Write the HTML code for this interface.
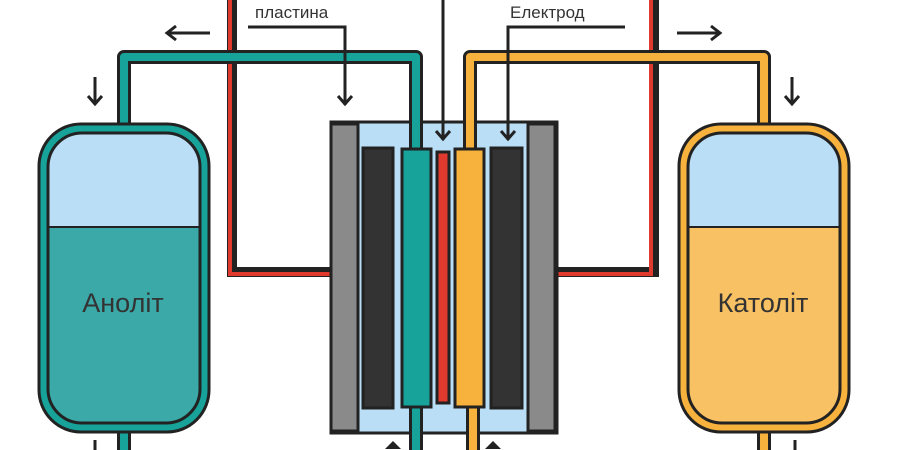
<!DOCTYPE html>
<html><head><meta charset="utf-8"><style>
html,body{margin:0;padding:0;background:#fff;width:900px;height:450px;overflow:hidden}
svg{display:block}
text{font-family:"Liberation Sans",sans-serif}
</style></head><body>
<svg width="900" height="450" viewBox="0 0 900 450" xmlns="http://www.w3.org/2000/svg">
<defs>
<clipPath id="cl"><rect x="48" y="133" width="152" height="290" rx="34"/></clipPath>
<clipPath id="cr"><rect x="688" y="133" width="152" height="290" rx="34"/></clipPath>
</defs>
<!-- red wires -->
<path d="M232,0 V272 H332" fill="none" stroke="#222" stroke-width="10"/>
<path d="M230,0 V274 H332" fill="none" stroke="#e0392d" stroke-width="4"/>
<path d="M654,0 V272 H555" fill="none" stroke="#222" stroke-width="10"/>
<path d="M651,0 V274 H555" fill="none" stroke="#e0392d" stroke-width="4"/>
<!-- pipes -->
<g fill="none" stroke-linejoin="round">
<path d="M124,130 V57 H416 V152" stroke="#222" stroke-width="14"/>
<path d="M124,130 V57 H416 V152" stroke="#17a39a" stroke-width="8"/>
<path d="M124,425 V450" stroke="#222" stroke-width="14"/>
<path d="M124,425 V450" stroke="#17a39a" stroke-width="8"/>
<path d="M764,130 V57 H470 V152" stroke="#222" stroke-width="14"/>
<path d="M764,130 V57 H470 V152" stroke="#f6b23c" stroke-width="8"/>
<path d="M764,425 V450" stroke="#222" stroke-width="14"/>
<path d="M764,425 V450" stroke="#f6b23c" stroke-width="8"/>
</g>
<!-- tanks -->
<rect x="39" y="124" width="170" height="308" rx="42" fill="#17a39a" stroke="#222" stroke-width="3"/>
<rect x="48" y="133" width="152" height="290" rx="34" fill="#3aa9a8"/>
<rect x="48" y="133" width="152" height="94" fill="#b9def5" clip-path="url(#cl)"/>
<line x1="48" y1="227" x2="200" y2="227" stroke="#222" stroke-width="2"/>
<rect x="48" y="133" width="152" height="290" rx="34" fill="none" stroke="#222" stroke-width="3"/>
<text x="123" y="312" font-size="27" text-anchor="middle" fill="#333">Аноліт</text>
<rect x="679" y="124" width="170" height="308" rx="42" fill="#f6b23c" stroke="#222" stroke-width="3"/>
<rect x="688" y="133" width="152" height="290" rx="34" fill="#f8c163"/>
<rect x="688" y="133" width="152" height="94" fill="#b9def5" clip-path="url(#cr)"/>
<line x1="688" y1="227" x2="840" y2="227" stroke="#222" stroke-width="2"/>
<rect x="688" y="133" width="152" height="290" rx="34" fill="none" stroke="#222" stroke-width="3"/>
<text x="763" y="312" font-size="27" text-anchor="middle" fill="#333">Католіт</text>
<!-- cell -->
<rect x="331" y="122" width="226" height="311" fill="#b9def5" stroke="#222" stroke-width="3"/>
<rect x="331" y="124" width="27" height="307" fill="#8a8a8a" stroke="#222" stroke-width="3"/>
<rect x="528" y="124" width="27" height="307" fill="#8a8a8a" stroke="#222" stroke-width="3"/>
<rect x="363" y="148" width="30" height="260" fill="#333" stroke="#222" stroke-width="3"/>
<rect x="491" y="148" width="31" height="260" fill="#333" stroke="#222" stroke-width="3"/>
<!-- pipe segments in cell -->
<g fill="none">
<path d="M416,110 V152" stroke="#222" stroke-width="14"/>
<path d="M416,110 V152" stroke="#17a39a" stroke-width="8"/>
<path d="M416,400 V450" stroke="#222" stroke-width="14"/>
<path d="M416,400 V450" stroke="#17a39a" stroke-width="8"/>
<path d="M470,110 V152" stroke="#222" stroke-width="14"/>
<path d="M470,110 V152" stroke="#f6b23c" stroke-width="8"/>
<path d="M473,400 V450" stroke="#222" stroke-width="14"/>
<path d="M473,400 V450" stroke="#f6b23c" stroke-width="8"/>
</g>
<rect x="402" y="149" width="29" height="258" fill="#17a39a" stroke="#222" stroke-width="3"/>
<rect x="437" y="152" width="12" height="251" fill="#e0392d" stroke="#222" stroke-width="3"/>
<rect x="455" y="149" width="29" height="258" fill="#f6b23c" stroke="#222" stroke-width="3"/>
<!-- leaders & arrows -->
<g fill="none" stroke="#222" stroke-width="3">
<path d="M443,0 V140"/><path d="M436,131 L443,139 L450,131"/>
<path d="M248,27 H345 V105"/><path d="M338,96 L345,104 L352,96"/>
<path d="M625,27 H508 V140"/><path d="M501,131 L508,139 L515,131"/>
<path d="M210,33 H167"/><path d="M176,26 L167,33 L176,40"/>
<path d="M677,33 H720"/><path d="M711,26 L720,33 L711,40"/>
<path d="M95,77 V104"/><path d="M88,96 L95,104 L102,96"/>
<path d="M792,77 V104"/><path d="M785,96 L792,104 L799,96"/>
<path d="M95,440 V450"/><path d="M795,440 V450"/>
</g>
<path d="M393,441 L401,449 L385,449 Z" fill="#222"/>
<path d="M493,441 L501,449 L485,449 Z" fill="#222"/>
<text x="255" y="18" font-size="17" fill="#333">пластина</text>
<text x="510" y="18" font-size="17" fill="#333">Електрод</text>
</svg>
</body></html>
